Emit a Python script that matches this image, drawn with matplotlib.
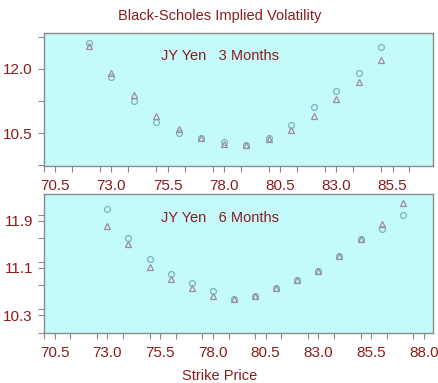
import matplotlib.pyplot as plt
import numpy as np
from matplotlib.ticker import MultipleLocator

plt.rcParams['font.family'] = ['Liberation Sans', 'DejaVu Sans']

# 3 month smile
strike_3m = [72, 73, 74, 75, 76, 77, 78, 79, 80, 81, 82, 83, 84, 85]
call_3m = [12.61, 11.81, 11.25, 10.75, 10.49, 10.39, 10.30, 10.23, 10.39, 10.69, 11.10, 11.49, 11.91, 12.51]
put_3m = [12.54, 11.90, 11.40, 10.89, 10.59, 10.39, 10.25, 10.23, 10.37, 10.58, 10.90, 11.30, 11.70, 12.22]

# 6 month smile
strike_6m = [73, 74, 75, 76, 77, 78, 79, 80, 81, 82, 83, 84, 85, 86, 87]
call_6m = [12.10, 11.60, 11.25, 11.00, 10.85, 10.71, 10.57, 10.63, 10.75, 10.90, 11.05, 11.30, 11.58, 11.75, 12.00]
put_6m = [11.80, 11.50, 11.11, 10.91, 10.76, 10.63, 10.57, 10.63, 10.75, 10.90, 11.05, 11.30, 11.58, 11.84, 12.20]

text_col = '#8b1c1c'
bg_col = '#c4fafa'
circ_col = '#7fb3bb'
tri_col = '#9d8a9d'
edge_col = '#8a8a8a'

fig = plt.figure(figsize=(4.39, 3.83), dpi=100)
ax1 = fig.add_axes([0.1002, 0.5666, 0.8861, 0.3472])
ax2 = fig.add_axes([0.1002, 0.1313, 0.8861, 0.3622])

panels = [
    (ax1, strike_3m, call_3m, put_3m, 'JY Yen   3 Months', (70.0, 87.3), (9.73, 12.84), 1.5,
     np.arange(70.5, 86.0, 2.5)),
    (ax2, strike_6m, call_6m, put_6m, 'JY Yen   6 Months', (70.0, 88.43), (10.0, 12.35), 0.8,
     np.arange(70.5, 88.5, 2.5)),
]

for ax, k, c, p, label, xl, yl, ystep, xt in panels:
    ax.set_facecolor(bg_col)
    ax.plot(k, c, 'o', ms=4.2, mfc='none', mec=circ_col, mew=0.9)
    ax.plot(k, p, '^', ms=3.8, mfc='none', mec=tri_col, mew=0.9)
    ax.set_xlim(*xl)
    ax.set_ylim(*yl)
    ax.set_xticks(xt)
    ax.xaxis.set_minor_locator(MultipleLocator(1.25))
    ax.yaxis.set_major_locator(MultipleLocator(ystep))
    ax.yaxis.set_minor_locator(MultipleLocator(ystep / 2))
    ax.xaxis.set_major_formatter(plt.FormatStrFormatter('%.1f'))
    ax.yaxis.set_major_formatter(plt.FormatStrFormatter('%.1f'))
    ax.tick_params(which='both', direction='out', color=edge_col, labelcolor=text_col,
                   labelsize=11, length=4.5, width=0.8, top=False, right=False)
    ax.tick_params(axis='x', pad=5)
    for s in ax.spines.values():
        s.set_color(edge_col)
        s.set_linewidth(1.0)
    ax.text(0.30, 0.827, label, transform=ax.transAxes, color=text_col, fontsize=10.5,
            va='center', ha='left')

# only the labelled values inside each panel
ax1.set_yticks([10.5, 12.0])
ax2.set_yticks([10.3, 11.1, 11.9])

fig.text(0.5, 0.958, 'Black-Scholes Implied Volatility', color=text_col, fontsize=10.5,
         ha='center', va='center')
fig.text(0.5, 0.017, 'Strike Price', color=text_col, fontsize=10.5, ha='center', va='center')

plt.savefig('out.png', dpi=100)
